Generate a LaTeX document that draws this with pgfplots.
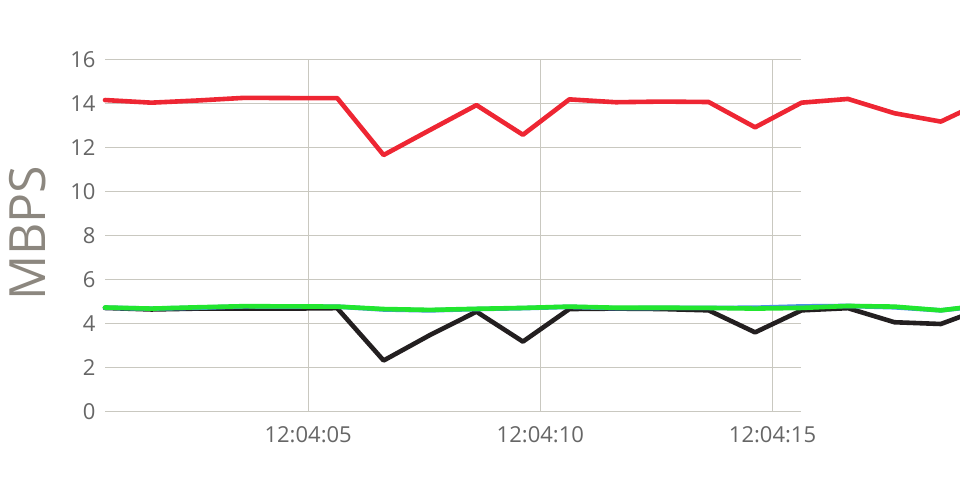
\documentclass[border=0pt]{standalone}
\usepackage{fontspec}
\setmainfont{Open Sans}
\usepackage{pgfplots}
\pgfplotsset{compat=1.18}
\usepackage{pgfplotstable}
\definecolor{cred}{HTML}{EE2633}
\definecolor{cblack}{HTML}{231F20}
\definecolor{cblue}{HTML}{4A90E2}
\definecolor{cgreen}{HTML}{22E62F}
\definecolor{cgrid}{HTML}{C9C8C0}
\definecolor{ctick}{HTML}{666666}
\definecolor{clabel}{HTML}{8C877F}
\pgfplotstableread{
t red black blue green
0.625 14.18 4.73 4.74 4.75
1.625 14.06 4.66 4.70 4.70
2.625 14.16 4.70 4.74 4.76
3.625 14.28 4.70 4.80 4.81
4.625 14.27 4.70 4.79 4.80
5.625 14.27 4.72 4.79 4.79
6.625 11.68 2.34 4.66 4.68
7.625 12.82 3.50 4.62 4.64
8.625 13.95 4.56 4.68 4.69
9.625 12.60 3.20 4.72 4.73
10.625 14.21 4.68 4.78 4.79
11.625 14.08 4.70 4.72 4.74
12.625 14.11 4.68 4.73 4.74
13.625 14.09 4.62 4.73 4.73
14.625 12.94 3.62 4.74 4.70
15.625 14.06 4.62 4.80 4.73
16.625 14.23 4.72 4.82 4.82
17.625 13.58 4.08 4.76 4.79
18.625 13.20 4.00 4.62 4.62
19.625 14.20 4.78 4.85 4.88
}\datatable
\begin{document}
\begin{tikzpicture}[x=1pt,y=1pt]
\useasboundingbox (0,0) rectangle (960,500);
\clip (0,0) rectangle (960,500);
\begin{axis}[
  at={(105pt,88pt)}, anchor=south west,
  scale only axis, width=695.5pt, height=352pt,
  xmin=0.625, xmax=15.603, ymin=0, ymax=16,
  clip=false,
  axis line style={draw=none},
  major tick length=0pt,
  xtick={5,10,15}, xticklabels={12:04:05,12:04:10,12:04:15},
  ytick={0,2,...,16},
  xmajorgrids, ymajorgrids,
  grid style={cgrid, line width=1pt},
  tick label style={font=\fontsize{22}{26}\selectfont, text=ctick},
  /pgf/number format/assume math mode=true,
  xticklabel style={yshift=-11pt},
  yticklabel style={xshift=-6pt},
  ylabel={MBPS},
  ylabel style={at={(axis description cs:-0.111,0.508)}, anchor=center, font=\fontsize{50}{54}\selectfont, text=clabel},
  every axis plot/.append style={line width=4.6pt, line join=round, line cap=round, mark=none},
]
\addplot[cred] table[x=t,y=red]{\datatable};
\addplot[cblack] table[x=t,y=black]{\datatable};
\addplot[cblue] table[x=t,y=blue]{\datatable};
\addplot[cgreen] table[x=t,y=green]{\datatable};
\end{axis}
\end{tikzpicture}
\end{document}
